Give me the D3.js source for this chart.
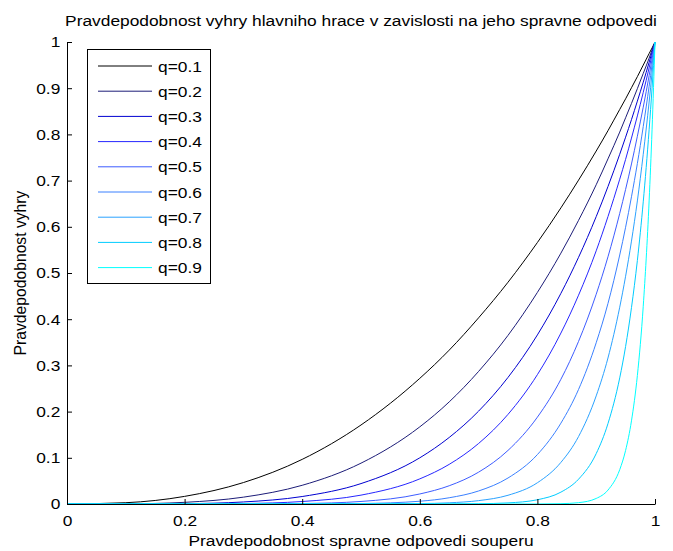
<!DOCTYPE html>
<html>
<head>
<meta charset="utf-8">
<script src="https://cdn.jsdelivr.net/npm/d3@7/dist/d3.min.js"></script>
<style>
  body { margin: 0; background: #fff; }
  svg text { font-family: "Liberation Sans", Arial, Helvetica, sans-serif; fill: #000; }
  .axis path, .axis line { stroke: #000; }
</style>
</head>
<body>
<div id="chart"></div>
<script>
// Pravdepodobnost spravne odpovedi souperu (x)
const pGrid = [0, 0.1, 0.2, 0.3, 0.4, 0.5, 0.6, 0.65, 0.7, 0.75, 0.8, 0.84, 0.87, 0.9, 0.92, 0.94, 0.95, 0.96, 0.97, 0.98, 0.99, 0.995, 1];

// Pravdepodobnost vyhry for each q
const winQ1 = [0, 0.0028, 0.0165, 0.0464, 0.0966, 0.171, 0.272, 0.333, 0.403, 0.480, 0.566, 0.641, 0.701, 0.764, 0.808, 0.854, 0.877, 0.901, 0.925, 0.950, 0.975, 0.987, 1];
const winQ2 = [0, 0.0003, 0.0036, 0.0148, 0.0405, 0.0884, 0.167, 0.221, 0.287, 0.365, 0.458, 0.543, 0.614, 0.691, 0.747, 0.805, 0.836, 0.867, 0.899, 0.932, 0.965, 0.983, 1];
const winQ3 = [0, 0, 0.0007, 0.0044, 0.0162, 0.0442, 0.100, 0.144, 0.201, 0.274, 0.366, 0.456, 0.534, 0.622, 0.687, 0.757, 0.794, 0.832, 0.872, 0.913, 0.956, 0.978, 1];
const winQ4 = [0, 0, 0.0001, 0.0010, 0.0054, 0.0192, 0.0544, 0.0858, 0.131, 0.194, 0.280, 0.370, 0.452, 0.548, 0.622, 0.703, 0.746, 0.792, 0.840, 0.891, 0.944, 0.972, 1];
const winQ5 = [0, 0, 0, 0.0001, 0.0010, 0.0055, 0.0217, 0.0395, 0.0689, 0.116, 0.188, 0.270, 0.352, 0.454, 0.535, 0.629, 0.681, 0.736, 0.796, 0.859, 0.927, 0.963, 1];
const winQ6 = [0, 0, 0, 0, 0.0001, 0.0010, 0.0060, 0.0135, 0.0282, 0.0563, 0.107, 0.175, 0.248, 0.349, 0.434, 0.539, 0.599, 0.665, 0.737, 0.817, 0.904, 0.951, 1];
const winQ7 = [0, 0, 0, 0, 0, 0.0001, 0.0009, 0.0026, 0.0073, 0.0189, 0.0460, 0.0901, 0.146, 0.234, 0.316, 0.426, 0.493, 0.569, 0.656, 0.757, 0.870, 0.933, 1];
const winQ8 = [0, 0, 0, 0, 0, 0, 0, 0.0001, 0.0006, 0.0024, 0.0092, 0.0257, 0.0537, 0.109, 0.174, 0.273, 0.341, 0.425, 0.527, 0.654, 0.810, 0.900, 1];
const winQ9 = [0, 0, 0, 0, 0, 0, 0, 0, 0, 0, 0.0001, 0.0007, 0.0029, 0.0120, 0.0301, 0.0743, 0.116, 0.180, 0.278, 0.428, 0.656, 0.810, 1];

const qLabels = ["q=0.1", "q=0.2", "q=0.3", "q=0.4", "q=0.5", "q=0.6", "q=0.7", "q=0.8", "q=0.9"];
const qColors = ["#000000", "#1c1c78", "#0000d0", "#2626ff", "#3d5cff", "#3a80ff", "#2aa2ff", "#00ccff", "#00ffff"];

const xTicks = [0, 0.2, 0.4, 0.6, 0.8, 1];
const yTicks = [0, 0.1, 0.2, 0.3, 0.4, 0.5, 0.6, 0.7, 0.8, 0.9, 1];

const series = [winQ1, winQ2, winQ3, winQ4, winQ5, winQ6, winQ7, winQ8, winQ9]
  .map((vals, i) => ({ name: qLabels[i], color: qColors[i], points: pGrid.map((p, j) => [p, vals[j]]) }));

const width = 673, height = 551;
const fs = 15.5, sx = 1.12; // text looks a bit wider than plain Arial

const svg = d3.select("#chart").append("svg")
  .attr("width", width)
  .attr("height", height);

const x = d3.scaleLinear().domain([0, 1]).range([67, 655]);
const y = d3.scaleLinear().domain([0, 1]).range([504, 42]);

// curves
const line = d3.line()
  .x(d => x(d[0]))
  .y(d => y(d[1]))
  .curve(d3.curveMonotoneX);

svg.append("g").selectAll("path")
  .data(series)
  .enter().append("path")
  .attr("d", d => line(d.points))
  .attr("fill", "none")
  .attr("stroke", d => d.color)
  .attr("stroke-width", 1);

// axes, ticks point inwards like matlab
const xAxis = svg.append("g")
  .attr("class", "axis")
  .attr("transform", `translate(0,${y(0)})`)
  .call(d3.axisBottom(x).tickValues(xTicks).tickSizeInner(-5).tickSizeOuter(0).tickPadding(11)
    .tickFormat(d => d3.format("")(d)));

const yAxis = svg.append("g")
  .attr("class", "axis")
  .attr("transform", `translate(${x(0)},0)`)
  .call(d3.axisLeft(y).tickValues(yTicks).tickSizeInner(-5).tickSizeOuter(0).tickPadding(6)
    .tickFormat(d => d3.format("")(+d.toFixed(1))));

svg.selectAll(".axis text")
  .style("font-size", fs + "px")
  .attr("transform", `scale(${sx},1)`);

// title + labels
svg.append("text")
  .attr("transform", `translate(${(x(0) + x(1)) / 2},26) scale(${sx},1)`)
  .attr("text-anchor", "middle")
  .style("font-size", fs + "px")
  .text("Pravdepodobnost vyhry hlavniho hrace v zavislosti na jeho spravne odpovedi");

svg.append("text")
  .attr("transform", `translate(${(x(0) + x(1)) / 2},546) scale(${sx},1)`)
  .attr("text-anchor", "middle")
  .style("font-size", fs + "px")
  .text("Pravdepodobnost spravne odpovedi souperu");

svg.append("text")
  .attr("transform", `translate(26,${(y(0) + y(1)) / 2}) rotate(-90)`)
  .attr("text-anchor", "middle")
  .style("font-size", "15.7px")
  .text("Pravdepodobnost vyhry");

// legend
const legend = svg.append("g");
legend.append("rect")
  .attr("x", 87.5).attr("y", 49.5)
  .attr("width", 123).attr("height", 234)
  .attr("fill", "#fff").attr("stroke", "#000").attr("stroke-width", 1);

const item = legend.selectAll(".item")
  .data(series)
  .enter().append("g")
  .attr("class", "item")
  .attr("transform", (d, i) => `translate(0,${66 + i * 25.2})`);

item.append("line")
  .attr("x1", 98).attr("x2", 152)
  .attr("stroke", d => d.color)
  .attr("stroke-width", 1);

item.append("text")
  .attr("transform", `translate(158,0) scale(${sx},1)`)
  .attr("dy", "0.36em")
  .style("font-size", fs + "px")
  .text(d => d.name);
</script>
</body>
</html>
